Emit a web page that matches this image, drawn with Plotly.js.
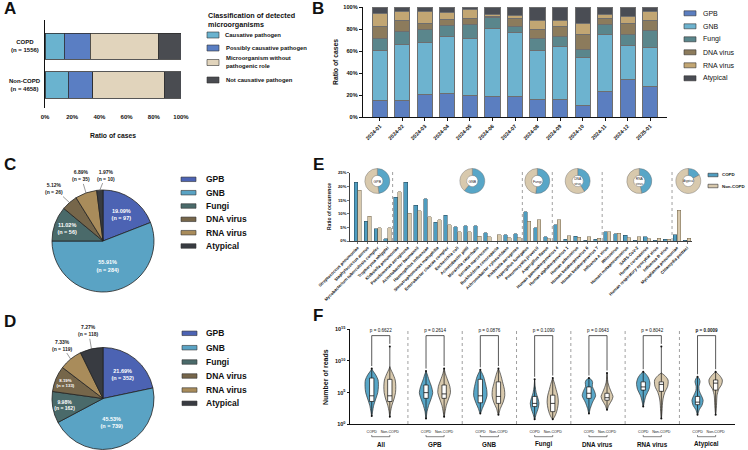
<!DOCTYPE html>
<html>
<head>
<meta charset="utf-8">
<script src="https://cdn.plot.ly/plotly-3.0.1.min.js"></script>
<style>
  html, body { margin: 0; padding: 0; background: #fff; }
  #chart { width: 748px; height: 450px; }
</style>
</head>
<body>
<div id="chart"></div>
<script>
// ---------------- Panel A: classification of detected microorganisms ----------------
const classNames = ['Causative pathogen', 'Possibly causative pathogen', 'Microorganism without<br>pathogenic role', 'Not causative pathogen'];
const classColors = ['#6ab3cf', '#5a7ec3', '#e1d4bc', '#4a4c51'];
const cohorts = ['COPD', 'Non-COPD'];
const cohortN = [1556, 4658];
const classShareCOPD = [14.2, 18.9, 50.7, 16.2];
const classShareNonCOPD = [17.2, 17.8, 52.5, 12.5];
const shareTicks = [0, 20, 40, 60, 80, 100];

// ---------------- Panel B: monthly composition ----------------
const months = ['2024-01', '2024-02', '2024-03', '2024-04', '2024-05', '2024-06', '2024-07',
                '2024-08', '2024-09', '2024-10', '2024-11', '2024-12', '2025-01'];
const monthGPB      = [14.7, 14.7, 20.2, 21.8, 19.9, 19.0, 19.0, 16.0, 15.6, 10.1, 23.3, 34.0, 27.6];
const monthGNB      = [46.0, 51.2, 47.2, 51.8, 51.5, 61.3, 57.7, 44.2, 48.8, 43.9, 52.1, 31.3, 35.3];
const monthFungi    = [10.7, 11.7, 12.3, 9.8, 12.3, 10.4, 5.5, 11.3, 9.2, 7.4, 8.3, 10.1, 15.3];
const monthDNA      = [10.7, 10.1, 4.9, 5.5, 6.1, 0.6, 7.7, 7.7, 8.6, 13.8, 6.1, 9.2, 9.2];
const monthRNA      = [11.7, 8.3, 11.3, 6.1, 7.7, 1.5, 2.1, 8.6, 5.5, 10.1, 3.1, 6.7, 8.6];
const monthAtypical = [6.2, 4.0, 4.1, 5.0, 2.5, 7.2, 8.0, 12.2, 12.3, 14.7, 7.1, 8.7, 4.0];
const groupNames = ['GPB', 'GNB', 'Fungi', 'DNA virus', 'RNA virus', 'Atypical'];
const barGroupColors = ['#5b7ec0', '#6db3cf', '#5a868c', '#8c7b5c', '#c2a673', '#4a4d54'];

// ---------------- Panels C, D: pathogen categories ----------------
const pieColors = ['#4c63b3', '#5aa3c4', '#4a6a6a', '#76664a', '#a98c5b', '#383b41'];
const copdCounts = [97, 284, 56, 26, 35, 10];
const nonCopdCounts = [352, 739, 162, 133, 119, 118];

// ---------------- Panel E: occurrence by species ----------------
const species = [
  'Streptococcus pneumoniae', 'Staphylococcus aureus', 'Mycobacterium tuberculosis complex', 'Tropheryma whipplei',
  'Klebsiella pneumoniae', 'Pseudomonas aeruginosa', 'Acinetobacter baumannii', 'Haemophilus influenzae',
  'Stenotrophomonas maltophilia', 'Enterobacter cloacae complex', 'Escherichia coli', 'Acinetobacter pittii',
  'Moraxella catarrhalis', 'Serratia marcescens', 'Burkholderia cenocepacia', 'Achromobacter xylosoxidans',
  'Klebsiella aerogenes',
  'Aspergillus fumigatus', 'Pneumocystis jirovecii', 'Aspergillus flavus',
  'Human gammaherpesvirus 4', 'Human alphaherpesvirus 1', 'Human adenovirus', 'Human betaherpesvirus 6',
  'Human betaherpesvirus 7',
  'Influenza A virus', 'Rhinovirus', 'Human metapneumovirus', 'SARS-CoV-2', 'Human coronavirus',
  'Human respiratory syncytial virus', 'Influenza B virus',
  'Mycoplasma pneumoniae', 'Chlamydia psittaci'
];
const occurrenceCOPD = [21.5, 7.3, 4.5, 0.8, 16.1, 21.5, 13.0, 15.4, 6.8, 9.5, 5.2, 5.6, 5.6, 3.0, 0, 2.2, 2.7,
                        10.7, 4.9, 1.5, 6.0, 0.7, 1.8, 0.3, 0.7, 3.3, 2.6, 2.1, 0.3, 1.5, 0.3, 0.6, 2.2, 0.2];
const occurrenceNonCOPD = [18.6, 9.1, 4.8, 4.8, 18.0, 10.1, 11.1, 8.9, 7.7, 6.0, 3.4, 3.3, 1.7, 1.6, 2.2, 1.1, 1.1,
                           7.3, 7.7, 0.9, 7.7, 2.0, 1.4, 1.6, 1.0, 3.3, 2.9, 1.1, 1.6, 0.8, 1.0, 0.7, 11.3, 1.0];
const speciesGroupSizes = [4, 13, 3, 5, 7, 2];
const donutLabels = ['GPB', 'GNB', 'Fungi', 'DNA<br>virus', 'RNA<br>virus', 'Atypical'];
const donutShareCOPD = [48, 61, 52, 41, 47, 17];
const copdColor = '#58a6c7';
const nonCopdColor = '#d8c9ad';

// ---------------- Panel F: read counts (log10 of reads) ----------------
const violinGroups = ['All', 'GPB', 'GNB', 'Fungi', 'DNA virus', 'RNA virus', 'Atypical'];
const pValues = [0.6622, 0.2614, 0.0876, 0.1090, 0.0643, 0.8042, 0.0009];
// one entry per violin: COPD, Non-COPD for each group in order
const violinLevels = [
  [1.3, 2, 3, 4, 5, 6, 7, 7.8, 8.4, 8.8],
  [1.2, 2, 3, 4, 5, 6, 7, 8, 8.7, 9.1],
  [0.9, 2, 3, 4, 5, 6, 7, 8, 8.4],
  [1.2, 2, 3, 4, 5, 6, 7, 8, 8.8],
  [1.7, 2.5, 3.5, 4.5, 5.5, 6.5, 7.5, 8.2, 8.6],
  [1.5, 2.5, 3.5, 4.5, 5.5, 6.5, 7.5, 8.3, 8.8],
  [0.8, 1.5, 2.5, 3.3, 4, 5, 6, 7.1],
  [0.8, 1.5, 2.5, 3.5, 4.5, 5.5, 6.5, 7.3],
  [1.7, 2.5, 3.5, 4.5, 5.3, 6, 6.6, 7, 7.3],
  [2.3, 3, 3.8, 4.4, 5, 5.8, 6.6, 7.5, 8.1],
  [2.8, 3.5, 4.5, 5.5, 6.5, 7.3, 8, 8.3],
  [0.9, 2, 3, 4, 5, 6, 7, 7.7, 8.1],
  [1.5, 2.3, 3, 3.8, 4.5, 5.3, 6, 6.7, 7.2, 7.5],
  [1.5, 2.5, 3.5, 4.5, 5.5, 6.3, 7, 7.7, 8.3]
];
const violinDensity = [
  [0, 0.12, 0.3, 0.6, 0.9, 1, 0.95, 0.6, 0.2, 0],
  [0, 0.12, 0.35, 0.7, 0.95, 1, 0.9, 0.5, 0.15, 0],
  [0, 0.15, 0.4, 0.75, 1, 0.8, 0.45, 0.15, 0],
  [0, 0.15, 0.35, 0.7, 1, 0.9, 0.55, 0.2, 0],
  [0, 0.3, 0.7, 1, 0.95, 0.75, 0.5, 0.2, 0],
  [0, 0.3, 0.75, 1, 0.95, 0.7, 0.45, 0.2, 0],
  [0, 0.3, 0.8, 1, 0.8, 0.35, 0.12, 0],
  [0, 0.5, 0.85, 1, 0.9, 0.6, 0.3, 0],
  [0, 0.2, 0.55, 1, 0.8, 0.5, 0.55, 0.4, 0],
  [0, 0.3, 0.8, 1, 0.75, 0.4, 0.15, 0.05, 0],
  [0, 0.15, 0.4, 0.85, 1, 0.8, 0.35, 0],
  [0, 0.1, 0.15, 0.25, 0.5, 0.95, 1, 0.5, 0],
  [0, 0.3, 0.8, 1, 0.7, 0.3, 0.25, 0.45, 0.3, 0],
  [0, 0.1, 0.15, 0.2, 0.45, 0.9, 1, 0.6, 0]
];
const violinHalfWidth = [0.37, 0.33, 0.37, 0.35, 0.37, 0.35, 0.24, 0.31, 0.37, 0.33, 0.37, 0.37, 0.31, 0.37];
const violinQ1     = [3.6, 3.6, 4.1, 4.1, 3.4, 3.3, 2.8, 2.0, 4.1, 3.8, 5.4, 5.2, 3.1, 5.4];
const violinMedian = [4.5, 4.5, 5.0, 4.8, 4.5, 4.4, 3.3, 3.3, 4.9, 4.2, 5.9, 6.3, 3.5, 6.5];
const violinQ3     = [7.3, 7.1, 6.2, 6.2, 7.1, 6.7, 4.4, 4.6, 5.9, 4.9, 6.7, 6.7, 4.4, 7.0];
const violinMin    = [1.3, 1.2, 0.9, 1.2, 1.7, 1.5, 0.8, 0.8, 1.7, 2.3, 2.8, 0.9, 1.5, 1.5];
const violinMax    = [8.8, 12.3, 8.4, 8.8, 8.6, 8.8, 7.1, 7.3, 7.3, 8.1, 8.3, 12.3, 7.5, 8.3];

// ---------------- helpers ----------------
const W = 748, H = 450;
const FONT = 'Liberation Sans, Arial, Helvetica, sans-serif';
const px = x => x / W;
const py = y => 1 - y / H;
const traces = [];
const shapes = [];
const annotations = [];

function txt(x, y, text, size, opts = {}) {
  annotations.push(Object.assign({
    xref: 'paper', yref: 'paper', x: px(x), y: py(y), text: text, showarrow: false,
    xanchor: 'left', yanchor: 'middle', align: 'left',
    font: { family: FONT, size: size, color: '#111', weight: opts.bold ? 'bold' : 'normal' }
  }, opts.extra || {}));
}
function legendItem(x, y, w, h, color, label, size, bold, gap) {
  shapes.push({ type: 'rect', xref: 'paper', yref: 'paper', x0: px(x), x1: px(x + w), y0: py(y + h / 2), y1: py(y - h / 2),
    fillcolor: color, line: { color: '#333', width: 0.6 } });
  txt(x + w + gap, y, label, size, { bold: bold });
}
const tickFont = (s, bold = true) => ({ family: FONT, size: s, color: '#111', weight: bold ? 'bold' : 'normal' });

// panel letters
[['A', 2, 8], ['B', 310, 8], ['C', 2, 164], ['D', 2, 321], ['E', 311, 164], ['F', 311, 315]].forEach(p => {
  txt(p[1], p[2], p[0], 17, { bold: true });
});

// ---------------- Panel A ----------------
classNames.forEach((name, k) => {
  traces.push({ type: 'bar', orientation: 'h', xaxis: 'x', yaxis: 'y', y: [1, 0],
    x: [classShareCOPD[k], classShareNonCOPD[k]], width: 0.667,
    marker: { color: classColors[k], line: { color: '#2d2d2d', width: 0.8 } }, hoverinfo: 'skip' });
});
cohorts.forEach((c, i) => {
  annotations.push({ xref: 'paper', yref: 'y', x: px(25), y: 1 - i, text: c + '<br>(n = ' + cohortN[i] + ')',
    showarrow: false, xanchor: 'center', yanchor: 'middle', align: 'center', font: tickFont(6) });
});
txt(113, 136, 'Ratio of cases', 6.8, { bold: true, extra: { xanchor: 'center' } });
txt(206, 19.5, 'Classification of detected<br>microorganisms', 7.2, { bold: true });
[35, 48, 62.5, 80].forEach((yy, k) => legendItem(207, yy, 12, 6, classColors[k], classNames[k], 5.9, true, 4.5));

// ---------------- Panel B ----------------
const monthSeries = [monthGPB, monthGNB, monthFungi, monthDNA, monthRNA, monthAtypical];
const monthIdx = months.map((m, i) => i);
monthSeries.forEach((s, k) => {
  traces.push({ type: 'bar', xaxis: 'x2', yaxis: 'y2', x: monthIdx, y: s, width: 0.67,
    marker: { color: barGroupColors[k], line: { color: '#6e6e6e', width: 1 } }, hoverinfo: 'skip' });
});
txt(335, 62, 'Ratio of cases', 6.8, { bold: true, extra: { xanchor: 'center', textangle: -90 } });
[13.3, 26.3, 39.3, 52.3, 65.3, 78.3].forEach((yy, k) => legendItem(684, yy, 12, 5, barGroupColors[k], groupNames[k], 7, false, 5));

// ---------------- Panels C, D ----------------
function addPie(counts, cx, cy, r, insideFlags, calloutOffsets) {
  traces.push({ type: 'pie', values: counts, labels: groupNames, sort: false, direction: 'clockwise', rotation: 0,
    domain: { x: [px(cx - r), px(cx + r)], y: [py(cy + r), py(cy - r)] },
    marker: { colors: pieColors, line: { color: '#222', width: 0.8 } },
    texttemplate: '%{percent:.2%}<br>(n = %{value})',
    textposition: insideFlags.map(f => f ? 'inside' : 'none'),
    insidetextorientation: 'horizontal',
    insidetextfont: { family: FONT, size: 5.5, color: '#ffffff', weight: 'bold' },
    hoverinfo: 'skip', showlegend: false });
  const total = counts.reduce((a, b) => a + b, 0);
  let cum = 0;
  const starts = counts.map(v => { const s = cum; cum += v; return s; });
  let j = 0;
  counts.forEach((v, k) => {
    if (insideFlags[k]) return;
    const ang = (starts[k] + v / 2) / total * 2 * Math.PI;
    const ex = cx + r * Math.sin(ang), ey = cy - r * Math.cos(ang);
    const off = calloutOffsets[j++];
    annotations.push({ xref: 'paper', yref: 'paper', x: px(ex), y: py(ey), ax: off[0], ay: off[1],
      showarrow: true, arrowhead: 0, arrowwidth: 0.6, arrowcolor: '#555', standoff: 0,
      text: (v / total * 100).toFixed(2) + '%<br>(n = ' + v + ')', align: 'center',
      font: { family: FONT, size: 5, color: '#222', weight: 'bold' } });
  });
}
addPie(copdCounts, 103, 241, 51, [1, 1, 1, 0, 0, 0], [[-15, -14], [-5, -17], [6, -15]]);
addPie(nonCopdCounts, 103, 398.5, 51, [1, 1, 1, 1, 0, 0], [[-9, -14], [-3, -18]]);
[179.3, 192.7, 206, 219.3, 232.7, 246].forEach((yy, k) => legendItem(181, yy, 15, 4.5, pieColors[k], groupNames[k], 8.5, true, 8));
[333.3, 347.7, 362, 376, 390, 403.3].forEach((yy, k) => legendItem(182, yy, 15, 4.5, pieColors[k], groupNames[k], 8.5, true, 7));

// ---------------- Panel E ----------------
const spIdx = species.map((s, i) => i);
traces.push({ type: 'bar', xaxis: 'x3', yaxis: 'y3', x: spIdx.map(i => i - 0.185), y: occurrenceCOPD, width: 0.36,
  marker: { color: '#4f9dc0', line: { color: '#23404d', width: 0.5 } }, hoverinfo: 'skip' });
traces.push({ type: 'bar', xaxis: 'x3', yaxis: 'y3', x: spIdx.map(i => i + 0.185), y: occurrenceNonCOPD, width: 0.36,
  marker: { color: nonCopdColor, line: { color: '#6d6249', width: 0.5 } }, hoverinfo: 'skip' });
let boundary = -0.5;
speciesGroupSizes.slice(0, -1).forEach(n => {
  boundary += n;
  shapes.push({ type: 'line', xref: 'x3', yref: 'paper', x0: boundary, x1: boundary, y0: py(241), y1: py(171),
    line: { color: '#777', width: 0.7, dash: 'dot' } });
});
[377.3, 472.3, 537.3, 577.7, 639.3, 688.3].forEach((cx, i) => {
  const r = 12.5, cy = 181;
  traces.push({ type: 'pie', hole: 0.45, values: [donutShareCOPD[i], 100 - donutShareCOPD[i]], labels: ['COPD', 'Non-COPD'],
    sort: false, direction: 'clockwise', rotation: 0, textinfo: 'none', hoverinfo: 'skip', showlegend: false,
    marker: { colors: [copdColor, nonCopdColor], line: { color: '#666', width: 0.4 } },
    domain: { x: [px(cx - r), px(cx + r)], y: [py(cy + r), py(cy - r)] },
    title: { text: donutLabels[i], position: 'middle center', font: { family: FONT, size: 3.5, color: '#222' } } });
});
txt(329, 207, 'Ratio of occurrence', 5, { bold: true, extra: { xanchor: 'center', textangle: -90 } });
legendItem(708, 175, 10, 3.5, '#4f9dc0', 'COPD', 4.4, true, 2);
legendItem(708, 186, 10, 3.5, nonCopdColor, 'Non-COPD', 4.4, true, 2);

// ---------------- Panel F ----------------
const violinPos = violinLevels.map((l, i) => Math.floor(i / 2) * 3 + (i % 2));
violinLevels.forEach((lv, i) => {
  const c = violinPos[i], hw = violinHalfWidth[i], d = violinDensity[i];
  const xs = [], ys = [];
  lv.forEach((L, k) => { xs.push(c + d[k] * hw); ys.push(Math.pow(10, L)); });
  for (let k = lv.length - 1; k >= 0; k--) { xs.push(c - d[k] * hw); ys.push(Math.pow(10, lv[k])); }
  const isCopd = i % 2 === 0;
  traces.push({ type: 'scatter', mode: 'lines', xaxis: 'x4', yaxis: 'y4', x: xs, y: ys, fill: 'toself',
    fillcolor: isCopd ? copdColor : nonCopdColor, line: { color: '#333', width: 0.7, shape: 'spline', smoothing: 0.8 },
    hoverinfo: 'skip' });
});
violinLevels.forEach((lv, i) => {
  const c = violinPos[i], b = 0.12;
  traces.push({ type: 'scatter', mode: 'lines+markers', xaxis: 'x4', yaxis: 'y4', x: [c, c],
    y: [Math.pow(10, violinMin[i]), Math.pow(10, violinMax[i])], line: { color: '#111', width: 0.7 },
    marker: { size: 2, color: '#111' }, hoverinfo: 'skip' });
  const q1 = Math.pow(10, violinQ1[i]), q3 = Math.pow(10, violinQ3[i]), md = Math.pow(10, violinMedian[i]);
  traces.push({ type: 'scatter', mode: 'lines', xaxis: 'x4', yaxis: 'y4', x: [c - b, c + b, c + b, c - b, c - b],
    y: [q1, q1, q3, q3, q1], fill: 'toself', fillcolor: '#ffffff', line: { color: '#111', width: 0.7 }, hoverinfo: 'skip' });
  traces.push({ type: 'scatter', mode: 'lines', xaxis: 'x4', yaxis: 'y4', x: [c - b, c + b], y: [md, md],
    line: { color: '#111', width: 0.8 }, hoverinfo: 'skip' });
});
violinGroups.forEach((g, gi) => {
  const a = gi * 3, n = gi * 3 + 1, top = 1e14;
  traces.push({ type: 'scatter', mode: 'lines', xaxis: 'x4', yaxis: 'y4', x: [a, a, n, n],
    y: [Math.pow(10, violinMax[2 * gi] + 0.4), top, top, Math.pow(10, violinMax[2 * gi + 1] + 0.4)],
    line: { color: '#111', width: 0.7 }, hoverinfo: 'skip' });
  const sig = pValues[gi] < 0.05;
  traces.push({ type: 'scatter', mode: 'text', xaxis: 'x4', yaxis: 'y4', x: [a + 0.5], y: [Math.pow(10, 14.75)],
    text: ['p = ' + pValues[gi].toFixed(4)], textposition: 'middle center', cliponaxis: false,
    textfont: { family: FONT, size: 4.6, color: '#111', weight: sig ? 'bold' : 'normal' }, hoverinfo: 'skip' });
  // group bracket and name under the axis
  shapes.push({ type: 'line', xref: 'x4', yref: 'paper', x0: a, x1: n, y0: py(436.7), y1: py(436.7), line: { color: '#333', width: 0.6 } });
  shapes.push({ type: 'line', xref: 'x4', yref: 'paper', x0: a, x1: a, y0: py(436.7), y1: py(435), line: { color: '#333', width: 0.6 } });
  shapes.push({ type: 'line', xref: 'x4', yref: 'paper', x0: n, x1: n, y0: py(436.7), y1: py(435), line: { color: '#333', width: 0.6 } });
  annotations.push({ xref: 'x4', yref: 'paper', x: a + 0.5, y: py(444), text: g, showarrow: false,
    xanchor: 'center', yanchor: 'middle', font: tickFont(6.3) });
  if (gi > 0) {
    shapes.push({ type: 'line', xref: 'x4', yref: 'paper', x0: a - 1, x1: a - 1, y0: py(424), y1: py(330),
      line: { color: '#777', width: 0.7, dash: 'dot' } });
  }
});
txt(325, 377, 'Number of reads', 7, { bold: true, extra: { xanchor: 'center', textangle: -90 } });

// ---------------- layout ----------------
const axisBase = { showgrid: false, zeroline: false, automargin: false, fixedrange: true,
  linecolor: '#111', tickcolor: '#111' };
const layout = {
  width: W, height: H, margin: { l: 0, r: 0, t: 0, b: 0 },
  paper_bgcolor: '#ffffff', plot_bgcolor: 'rgba(0,0,0,0)',
  font: { family: FONT, color: '#111' },
  barmode: 'stack', showlegend: false,
  xaxis: Object.assign({}, axisBase, { domain: [px(45), px(181)], range: [0, 100], anchor: 'y',
    tickvals: shareTicks, ticktext: shareTicks.map(v => v + '%'), ticks: 'outside', ticklen: 3,
    tickcolor: 'rgba(0,0,0,0)', showline: false, tickfont: tickFont(6) }),
  yaxis: Object.assign({}, axisBase, { domain: [py(108), py(20)], range: [-0.59, 1.667], anchor: 'x',
    showline: true, linewidth: 1.2, showticklabels: false, ticks: '' }),
  xaxis2: Object.assign({}, axisBase, { domain: [px(363), px(667)], range: [-0.75, 12.75], anchor: 'y2',
    tickvals: monthIdx, ticktext: months, tickangle: -45, ticks: 'outside', ticklen: 3, showline: true,
    linewidth: 1.2, tickfont: tickFont(5.3) }),
  yaxis2: Object.assign({}, axisBase, { domain: [py(117), py(7)], range: [0, 100], anchor: 'x2',
    tickvals: shareTicks, ticktext: shareTicks.map(v => v + '%'), ticks: 'outside', ticklen: 3, showline: true,
    linewidth: 1.2, tickfont: tickFont(5.6) }),
  xaxis3: Object.assign({}, axisBase, { domain: [px(350), px(691.7)], range: [-0.77, 33.47], anchor: 'y3',
    tickvals: spIdx, ticktext: species, tickangle: -45, ticks: 'outside', ticklen: 2, showline: true,
    linewidth: 0.8, tickwidth: 0.6, tickfont: tickFont(4.2) }),
  yaxis3: Object.assign({}, axisBase, { domain: [py(241), py(172.7)], range: [0, 25], anchor: 'x3',
    tickvals: [0, 5, 10, 15, 20, 25], ticktext: ['0%', '5%', '10%', '15%', '20%', '25%'], ticks: 'outside',
    ticklen: 2, showline: true, linewidth: 0.8, tickwidth: 0.6, tickfont: tickFont(4.2) }),
  xaxis4: Object.assign({}, axisBase, { domain: [px(350), px(735)], range: [-1.2, 20.07], anchor: 'y4',
    tickvals: violinPos, ticktext: violinPos.map((p, i) => i % 2 === 0 ? 'COPD' : 'Non-COPD'),
    ticks: 'outside', ticklen: 3, tickcolor: 'rgba(0,0,0,0)', showline: true, linewidth: 1,
    tickfont: tickFont(3.6, false) }),
  yaxis4: Object.assign({}, axisBase, { type: 'log', domain: [py(424.3), py(329.3)], range: [0, 15], anchor: 'x4',
    tickvals: [1, 1e5, 1e10, 1e15], ticktext: ['10<sup>0</sup>', '10<sup>5</sup>', '10<sup>10</sup>', '10<sup>15</sup>'],
    ticks: 'outside', ticklen: 2.5, showline: true, linewidth: 1, tickfont: tickFont(5.5) }),
  shapes: shapes,
  annotations: annotations
};

Plotly.newPlot('chart', traces, layout, { staticPlot: true, displayModeBar: false });
</script>
</body>
</html>
